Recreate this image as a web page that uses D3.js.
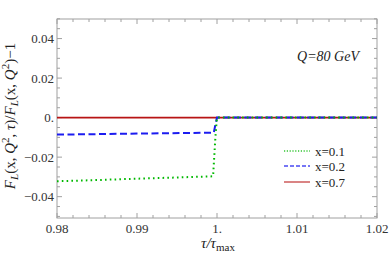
<!DOCTYPE html>
<html><head><meta charset="utf-8">
<script src="https://cdn.jsdelivr.net/npm/d3@7"></script>
<style>body{margin:0;background:#fff}svg{display:block}</style>
</head><body><svg id="c" width="390" height="253"></svg>
<script>
const xTicks=[0.98,0.99,1.0,1.01,1.02];
const xTickLabels=["0.98","0.99","1.","1.01","1.02"];
const yTicks=[0.04,0.02,0,-0.02,-0.04];
const yTickLabels=["0.04","0.02","0.","\u22120.02","\u22120.04"];
const seriesNames=["x=0.1","x=0.2","x=0.7"];
const seriesColors=["#00b800","#1c1cf0","#b81414"];
const tauX1=[0.98,0.985,0.99,0.995,0.9995,0.99953,0.99965,0.9998,0.99995,1.0,1.02];
const valX1=[-0.0322,-0.0316,-0.0309,-0.0303,-0.0297,-0.0285,-0.020,-0.010,-0.002,0,0];
const tauX2=[0.98,0.99,0.9996,0.9998,1.0,1.02];
const valX2=[-0.0086,-0.0081,-0.0076,-0.0035,0,0];
const tauX7=[0.98,1.0,1.02];
const valX7=[0,0,0];

const FF="'Liberation Serif','Times New Roman',serif";
const svg=d3.select("#c");
const L=57,R=377,T=19,B=218;
const x=d3.scaleLinear().domain([0.98,1.02]).range([L,R]);
const y=d3.scaleLinear().domain([-0.0508,0.0499]).range([B,T]);
const frameCol="#a0a0a0";

const xMinor=d3.range(0.98,1.0201,0.002).map(v=>+v.toFixed(4));
const yMinor=d3.range(-0.05,0.0501,0.005).map(v=>+v.toFixed(4));
const g=svg.append("g");
xMinor.forEach(v=>{
  const major=xTicks.some(t=>Math.abs(t-v)<1e-6);
  const len=major?5:3;
  g.append("line").attr("x1",x(v)).attr("x2",x(v)).attr("y1",B).attr("y2",B-len).attr("stroke",frameCol);
  g.append("line").attr("x1",x(v)).attr("x2",x(v)).attr("y1",T).attr("y2",T+len).attr("stroke",frameCol);
});
yMinor.forEach(v=>{
  if(y(v)<T-0.5||y(v)>B+0.5) return;
  const major=yTicks.some(t=>Math.abs(t-v)<1e-6);
  const len=major?5:3;
  g.append("line").attr("y1",y(v)).attr("y2",y(v)).attr("x1",L).attr("x2",L+len).attr("stroke",frameCol);
  g.append("line").attr("y1",y(v)).attr("y2",y(v)).attr("x1",R).attr("x2",R-len).attr("stroke",frameCol);
});
g.append("rect").attr("x",L).attr("y",T).attr("width",R-L).attr("height",B-T).attr("fill","none").attr("stroke",frameCol);

xTicks.forEach((v,i)=>{
  svg.append("text").attr("font-family",FF).attr("x",x(v)).attr("y",233).attr("text-anchor","middle").attr("font-size",13).attr("fill","#333").text(xTickLabels[i]);
});
yTicks.forEach((v,i)=>{
  svg.append("text").attr("font-family",FF).attr("x",54).attr("y",y(v)+4.5).attr("text-anchor","end").attr("font-size",13).attr("fill","#333").text(yTickLabels[i]);
});

const line=d3.line().x(d=>x(d[0])).y(d=>y(d[1]));
svg.append("clipPath").attr("id","cp").append("rect").attr("x",L).attr("y",T).attr("width",R-L).attr("height",B-T);
const pg=svg.append("g").attr("clip-path","url(#cp)");
const data=[tauX1.map((t,i)=>[t,valX1[i]]),tauX2.map((t,i)=>[t,valX2[i]]),tauX7.map((t,i)=>[t,valX7[i]])];
const dashes=["1.6,3.2","7,3.5",null];
const widths=[2,2,1.6];
[2,1,0].forEach(k=>{
  const p=pg.append("path").datum(data[k]).attr("d",line).attr("fill","none").attr("stroke",seriesColors[k]).attr("stroke-width",widths[k]);
  if(dashes[k]) p.attr("stroke-dasharray",dashes[k]);
});

const legY=[151,166,182];
seriesNames.forEach((n,k)=>{
  const l=svg.append("line").attr("x1",284).attr("x2",310).attr("y1",legY[k]).attr("y2",legY[k]).attr("stroke",seriesColors[k]).attr("stroke-width",k==0?1.5:1.3).attr("opacity",0.8);
  if(k==0) l.attr("stroke-dasharray","1.2,1.6");
  if(k==1) l.attr("stroke-dasharray","4,2");
  svg.append("text").attr("font-family",FF).attr("x",315).attr("y",legY[k]+4.5).attr("font-size",13).attr("fill","#222").text(n);
});

svg.append("text").attr("font-family",FF).attr("x",359).attr("y",61).attr("text-anchor","end").attr("font-size",14).attr("font-style","italic").attr("fill","#222").text("Q=80 GeV");

const xl=svg.append("text").attr("font-family",FF).attr("x",218).attr("y",248).attr("text-anchor","middle").attr("font-size",15).attr("fill","#222");
xl.append("tspan").attr("font-style","italic").text("\u03c4/\u03c4");
xl.append("tspan").attr("font-size",11).attr("dy",3).text("max");

const yl=svg.append("text").attr("font-family",FF).attr("transform","translate(15,116) rotate(-90)").attr("text-anchor","middle").attr("font-size",15).attr("fill","#222");
const sub=(t)=>{yl.append("tspan").attr("font-style","italic").attr("font-size",11).attr("dy",3).text(t);};
yl.append("tspan").attr("font-style","italic").text("F");
sub("L");
yl.append("tspan").attr("dy",-3).text("(x, ");
yl.append("tspan").attr("font-style","italic").text("Q");
yl.append("tspan").attr("font-size",11).attr("dy",-6).text("2");
yl.append("tspan").attr("dy",6).text(", ");
yl.append("tspan").attr("font-style","italic").text("\u03c4");
yl.append("tspan").text(")/");
yl.append("tspan").attr("font-style","italic").text("F");
sub("L");
yl.append("tspan").attr("dy",-3).text("(x, ");
yl.append("tspan").attr("font-style","italic").text("Q");
yl.append("tspan").attr("font-size",11).attr("dy",-6).text("2");
yl.append("tspan").attr("dy",6).text(")\u22121");
</script></body></html>
